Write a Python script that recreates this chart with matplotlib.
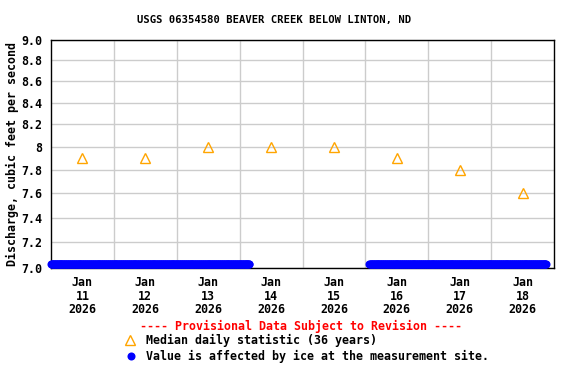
import numpy as np
import pandas as pd
import matplotlib
matplotlib.use("Agg")
import matplotlib.pyplot as plt
import matplotlib.dates as mdates
from matplotlib.lines import Line2D
from matplotlib.ticker import FixedLocator, NullLocator, FixedFormatter

title = "USGS 06354580 BEAVER CREEK BELOW LINTON, ND"
ylabel = "Discharge, cubic feet per second"

median_days = ["2026-01-11 12:00", "2026-01-12 12:00", "2026-01-13 12:00", "2026-01-14 12:00",
               "2026-01-15 12:00", "2026-01-16 12:00", "2026-01-17 12:00", "2026-01-18 12:00"]
median_vals = [7.9, 7.9, 8.0, 8.0, 8.0, 7.9, 7.8, 7.6]

# ice-affected 15-minute record segments (start, end) and the plotted value
ice_segments = [("2026-01-11 00:00", "2026-01-14 03:45"),
                ("2026-01-16 01:30", "2026-01-18 21:00")]
ice_value = 7.03

yticks = [7.0, 7.2, 7.4, 7.6, 7.8, 8.0, 8.2, 8.4, 8.6, 8.8, 9.0]
yticklabels = ["7.0", "7.2", "7.4", "7.6", "7.8", "8", "8.2", "8.4", "8.6", "8.8", "9.0"]
xlabel_days = ["11", "12", "13", "14", "15", "16", "17", "18"]

FONT = "DejaVu Sans Mono"
fig = plt.figure(figsize=(5.76, 3.84), dpi=100)
ax = fig.add_axes([51/576, 1-268/384, 503/576, 228/384])

x0 = pd.Timestamp("2026-01-11 00:00")
x1 = pd.Timestamp("2026-01-19 00:00")
ax.set_yscale("log")
ax.set_xlim(x0, x1)
ax.set_ylim(7.0, 9.0)

for s, e in ice_segments:
    t = pd.date_range(s, e, freq="15min")
    ax.plot(t, [ice_value]*len(t), linestyle="none", marker="o", markersize=5.8,
            color="#0000ff", markeredgewidth=0, clip_on=False, zorder=3)

ax.plot(pd.to_datetime(median_days), median_vals, linestyle="none", marker="^",
        markersize=7.5, markerfacecolor="none", markeredgecolor="#ffa500",
        markeredgewidth=1.0, zorder=4)

# grid at midnights
ax.set_xticks(pd.date_range("2026-01-12", "2026-01-18", freq="D"))
ax.set_xticklabels([])
ax.tick_params(axis="x", which="major", length=0)
ax.set_xticks(pd.to_datetime(median_days), minor=True)
ax.set_xticklabels([f"Jan\n{d}\n2026" for d in xlabel_days], minor=True,
                   fontfamily=FONT, fontweight="bold", fontsize=8.4, linespacing=1.05)
ax.tick_params(axis="x", which="minor", length=0, pad=6)

ax.yaxis.set_major_locator(FixedLocator(yticks))
ax.yaxis.set_major_formatter(FixedFormatter(yticklabels))
ax.yaxis.set_minor_locator(NullLocator())
for lab in ax.get_yticklabels():
    lab.set_fontfamily(FONT)
    lab.set_fontweight("bold")
    lab.set_fontsize(8.4)
ax.tick_params(axis="y", which="both", length=0, pad=6, labelsize=8.4)

ax.grid(True, which="major", color="#cccccc", linewidth=1)
ax.set_axisbelow(True)
for sp in ax.spines.values():
    sp.set_color("black")
    sp.set_linewidth(1)

fig.text(274/576, 1-20/384, title, ha="center", va="center",
         fontfamily=FONT, fontweight="bold", fontsize=7.6)
fig.text(12/576, 1-154/384, ylabel, ha="center", va="center", rotation=90,
         fontfamily=FONT, fontweight="bold", fontsize=8.4)

fig.text(301/576, 1-326/384, "---- Provisional Data Subject to Revision ----",
         ha="center", va="center", color="red", fontfamily=FONT, fontweight="bold", fontsize=8.4)
fig.add_artist(Line2D([130/576], [1-340/384], marker="^", markersize=7.5,
                      markerfacecolor="none", markeredgecolor="#ffa500",
                      markeredgewidth=1.0, linestyle="none", transform=fig.transFigure))
fig.text(146/576, 1-340/384, "Median daily statistic (36 years)", ha="left", va="center",
         fontfamily=FONT, fontweight="bold", fontsize=8.4)
fig.add_artist(Line2D([131/576], [1-356/384], marker="o", markersize=5.8,
                      color="#0000ff", markeredgewidth=0, linestyle="none",
                      transform=fig.transFigure))
fig.text(146/576, 1-356/384, "Value is affected by ice at the measurement site.", ha="left",
         va="center", fontfamily=FONT, fontweight="bold", fontsize=8.4)

fig.savefig("out.png", dpi=100)
